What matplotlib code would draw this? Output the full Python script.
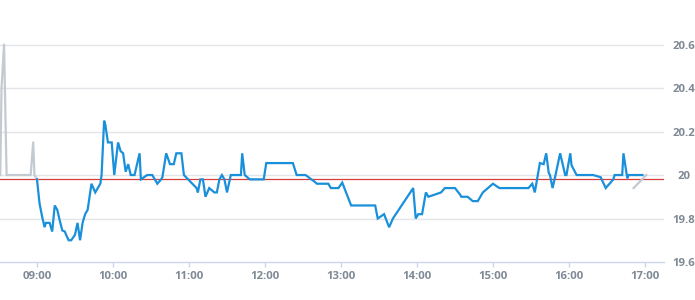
import matplotlib
matplotlib.use('Agg')
import matplotlib.pyplot as plt
import matplotlib.dates as mdates
import pandas as pd

DAY = '2024-01-02 '

# pre-market (grey)
pre_times = ['08:31', '08:32', '08:34', '08:36', '08:55', '08:57', '08:58', '09:00']
pre_prices = [20.0, 20.4, 20.6, 20.0, 20.0, 20.15, 20.0, 19.98]

# regular session (blue)
times = ['09:00', '09:02', '09:04', '09:06', '09:07', '09:10', '09:12', '09:14',
         '09:16', '09:18', '09:20', '09:22', '09:23', '09:25', '09:27', '09:30',
         '09:32', '09:34', '09:36', '09:38', '09:40', '09:43', '09:46', '09:50',
         '09:51', '09:53', '09:54', '09:56', '09:59', '10:01', '10:04', '10:06',
         '10:08', '10:10', '10:12', '10:14', '10:17', '10:21', '10:22', '10:27',
         '10:31', '10:35', '10:38', '10:39', '10:42', '10:45', '10:48', '10:50',
         '10:54', '10:56', '11:06', '11:07', '11:09', '11:11', '11:13', '11:16',
         '11:20', '11:22', '11:24', '11:26', '11:28', '11:30', '11:33', '11:41',
         '11:42', '11:44', '11:48', '11:59', '12:01', '12:22', '12:25', '12:32',
         '12:39', '12:41', '12:50', '12:52', '12:58', '13:01', '13:08', '13:27',
         '13:29', '13:34', '13:38', '13:41', '13:57', '13:59', '14:01', '14:04',
         '14:07', '14:09', '14:19', '14:22', '14:30', '14:34', '14:35', '14:40',
         '14:44', '14:48', '14:52', '15:00', '15:05', '15:28', '15:31', '15:33',
         '15:37', '15:40', '15:42', '15:44', '15:45', '15:47', '15:49', '15:53',
         '15:57', '15:58', '16:01', '16:02', '16:06', '16:19', '16:25', '16:29',
         '16:35', '16:36', '16:42', '16:43', '16:46', '16:47', '16:58']
prices = [19.98, 19.87, 19.81, 19.76, 19.78, 19.78, 19.74, 19.86,
          19.84, 19.79, 19.745, 19.74, 19.725, 19.70, 19.70, 19.725,
          19.78, 19.70, 19.78, 19.82, 19.84, 19.96, 19.92, 19.96,
          20.0, 20.25, 20.23, 20.15, 20.15, 20.0, 20.15, 20.11,
          20.10, 20.015, 20.05, 20.0, 20.0, 20.10, 19.98, 20.0,
          20.0, 19.96, 19.98, 19.99, 20.10, 20.05, 20.05, 20.10,
          20.10, 20.0, 19.94, 19.92, 19.98, 19.98, 19.90, 19.94,
          19.92, 19.92, 19.98, 20.0, 19.98, 19.92, 20.0, 20.0,
          20.10, 20.0, 19.98, 19.98, 20.055, 20.055, 20.0, 20.0,
          19.97, 19.96, 19.96, 19.94, 19.94, 19.965, 19.86, 19.86,
          19.80, 19.82, 19.76, 19.80, 19.94, 19.80, 19.82, 19.82,
          19.92, 19.90, 19.92, 19.94, 19.94, 19.91, 19.90, 19.90,
          19.88, 19.88, 19.92, 19.96, 19.94, 19.94, 19.96, 19.92,
          20.055, 20.05, 20.10, 20.01, 20.0, 19.94, 19.99, 20.10,
          20.0, 20.0, 20.10, 20.045, 20.0, 20.0, 19.99, 19.94,
          19.98, 20.0, 20.0, 20.10, 19.985, 20.0, 20.0]

# after-hours (grey)
post_times = ['16:51', '17:01']
post_prices = [19.94, 20.0]

prev_close = 19.982
y_ticks = [19.6, 19.8, 20.0, 20.2, 20.4, 20.6]
y_labels = ['19.6', '19.8', '20', '20.2', '20.4', '20.6']


def to_dt(ts):
    return pd.to_datetime([DAY + t for t in ts])


fig = plt.figure(figsize=(6.95, 3.0), dpi=100)
ax = fig.add_axes([0, 38 / 300, 664 / 695, 262 / 300])

label_color = '#7f8a96'
grid_color = '#e2e5ea'
font = dict(family='Open Sans', weight='bold', size=8.2)

ax.axhline(prev_close, color='#d63c38', lw=0.9, zorder=2)
ax.plot(to_dt(pre_times), pre_prices, color='#c3cad1', lw=1.6, zorder=3)
ax.plot(to_dt(post_times), post_prices, color='#c3cad1', lw=1.6, zorder=3)
ax.plot(to_dt(times), prices, color='#1a90db', lw=1.6, zorder=4,
        solid_joinstyle='miter')

ax.set_xlim(pd.Timestamp(DAY + '08:30:48'), pd.Timestamp(DAY + '17:15:00'))
ax.set_ylim(19.6, 20.805)

ax.xaxis.set_major_locator(mdates.HourLocator())
ax.xaxis.set_major_formatter(mdates.DateFormatter('%H:%M'))
ax.set_yticks(y_ticks)
ax.set_yticklabels(y_labels)
ax.yaxis.tick_right()
ax.grid(axis='y', color=grid_color, lw=1, zorder=0)
ax.yaxis.get_gridlines()[0].set_visible(False)

for side in ['top', 'left', 'right']:
    ax.spines[side].set_visible(False)
ax.spines['bottom'].set_color('#ccd6eb')
ax.spines['bottom'].set_linewidth(1)

ax.tick_params(axis='x', length=3.6, width=1, color='#ccd6eb', pad=3,
               labelcolor=label_color)
ax.tick_params(axis='y', length=0, pad=14.5, labelcolor=label_color)
for lab in ax.get_xticklabels() + ax.get_yticklabels():
    lab.set_fontproperties(font)
for lab in ax.get_yticklabels():
    lab.set_ha('center')

fig.savefig('out.png', dpi=100)
